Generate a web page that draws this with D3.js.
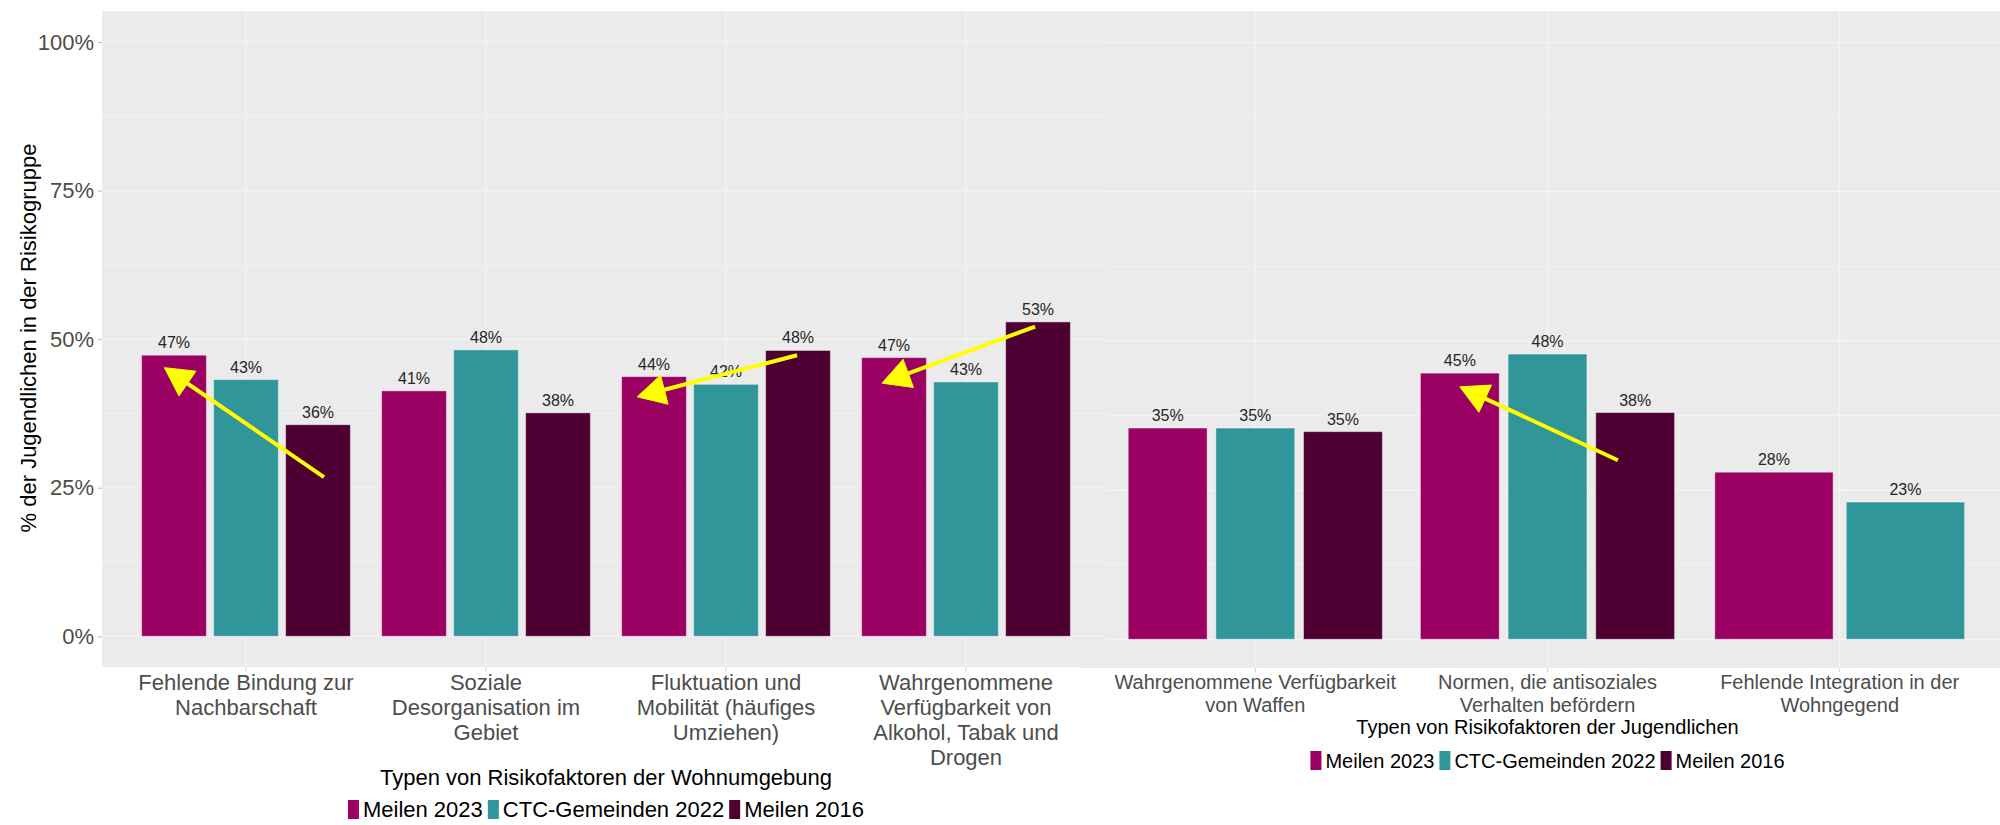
<!DOCTYPE html>
<html>
<head>
<meta charset="utf-8">
<script src="https://cdn.jsdelivr.net/npm/d3@7"></script>
<style>
  html, body { margin: 0; padding: 0; background: #ffffff; }
  svg { display: block; font-family: "Liberation Sans", Arial, Helvetica, sans-serif; }
</style>
</head>
<body>
<svg id="chart" width="2000" height="825"></svg>
<script>
// ---- data -------------------------------------------------------------
const seriesNames = ["Meilen 2023", "CTC-Gemeinden 2022", "Meilen 2016"];
const seriesColors = ["#9B0063", "#31969A", "#4E0032"];

// Risk factors of the living environment (values in %)
const envCategories = [
  "Fehlende Bindung zur\nNachbarschaft",
  "Soziale\nDesorganisation im\nGebiet",
  "Fluktuation und\nMobilität (häufiges\nUmziehen)",
  "Wahrgenommene\nVerfügbarkeit von\nAlkohol, Tabak und\nDrogen"
];
const envMeilen2023 = [47.3, 41.3, 43.7, 46.9];
const envCTC2022    = [43.2, 48.2, 42.4, 42.8];
const envMeilen2016 = [35.6, 37.6, 48.1, 52.9];
const envTitle = "Typen von Risikofaktoren der Wohnumgebung";

// Risk factors of the young people themselves (values in %)
const youthCategories = [
  "Wahrgenommene Verfügbarkeit\nvon Waffen",
  "Normen, die antisoziales\nVerhalten befördern",
  "Fehlende Integration in der\nWohngegend"
];
const youthMeilen2023 = [35.4, 44.6, 28.0];
const youthCTC2022    = [35.4, 47.8, 23.0];
const youthMeilen2016 = [34.8, 38.0, null];
const youthTitle = "Typen von Risikofaktoren der Jugendlichen";

const yTicks = [0, 25, 50, 75, 100];
const yMinorTicks = [12.5, 37.5, 62.5, 87.5];
const yTitle = "% der Jugendlichen in der Risikogruppe";

// Trend arrows: category index, position inside the group (fraction of band), value in %
const envArrows = [
  { cat: 0, fromDx: 0.325, fromV: 26.8, toDx: -0.34, toV: 45.2 },
  { cat: 2, fromDx: 0.296, fromV: 47.3, toDx: -0.37, toV: 40.3 },
  { cat: 3, fromDx: 0.288, fromV: 52.1, toDx: -0.35, toV: 42.6 }
];
const youthArrows = [
  { cat: 1, fromDx: 0.241, fromV: 30.0, toDx: -0.30, toV: 42.3 }
];

// ---- drawing ----------------------------------------------------------
const svg = d3.select("#chart");
const PANEL_BG = "#EBEBEB";
const GRID = "#F5F5F5";

function buildRows(categories, cols) {
  return categories.map((c, i) => ({
    cat: c,
    values: seriesNames
      .map((s, j) => ({ series: s, idx: j, value: cols[j][i] }))
      .filter(d => d.value !== null && d.value !== undefined)
  }));
}

function drawPanel(opt) {
  const g = svg.append("g");
  const x = d3.scaleBand()
    .domain(opt.categories)
    .range([opt.xRange[0], opt.xRange[1]])
    .paddingInner(0).paddingOuter(0.1);
  const y = d3.scaleLinear().domain([0, 100]).range(opt.yRange);
  const band = x.step();

  // panel background
  g.append("rect")
    .attr("x", opt.bgX[0]).attr("y", opt.top)
    .attr("width", opt.bgX[1] - opt.bgX[0]).attr("height", opt.bottom - opt.top)
    .attr("fill", PANEL_BG);

  // grid
  const grid = g.append("g");
  grid.selectAll("line.minor").data(yMinorTicks).join("line")
    .attr("x1", opt.bgX[0]).attr("x2", opt.bgX[1])
    .attr("y1", d => y(d)).attr("y2", d => y(d))
    .attr("stroke", GRID).attr("stroke-width", 0.8);
  grid.selectAll("line.major").data(yTicks).join("line")
    .attr("x1", opt.bgX[0]).attr("x2", opt.bgX[1])
    .attr("y1", d => y(d)).attr("y2", d => y(d))
    .attr("stroke", GRID).attr("stroke-width", 1.2);
  grid.selectAll("line.vert").data(opt.categories).join("line")
    .attr("x1", d => x(d) + band / 2).attr("x2", d => x(d) + band / 2)
    .attr("y1", opt.top).attr("y2", opt.bottom)
    .attr("stroke", GRID).attr("stroke-width", 1.2);

  // bars (dodged within each category)
  const rows = buildRows(opt.categories, opt.cols);
  rows.forEach(row => {
    const inner = d3.scaleBand()
      .domain(row.values.map(v => v.series))
      .range([-0.45 * band, 0.45 * band])
      .paddingInner(0.1).paddingOuter(0.05);
    const cx = x(row.cat) + band / 2;
    const grp = g.append("g");
    grp.selectAll("rect").data(row.values).join("rect")
      .attr("x", d => cx + inner(d.series))
      .attr("y", d => y(d.value))
      .attr("width", inner.bandwidth())
      .attr("height", d => y(0) - y(d.value))
      .attr("fill", d => seriesColors[d.idx])
      .attr("stroke", "#ffffff").attr("stroke-opacity", 0.45).attr("stroke-width", 1);
    grp.selectAll("text").data(row.values).join("text")
      .attr("x", d => cx + inner(d.series) + inner.bandwidth() / 2)
      .attr("y", d => y(d.value) - 7)
      .attr("text-anchor", "middle")
      .attr("font-size", 16)
      .attr("fill", "#262626")
      .text(d => Math.round(d.value) + "%");
  });

  // x ticks and category labels
  const xAxis = g.append("g");
  opt.categories.forEach(c => {
    const cx = x(c) + band / 2;
    xAxis.append("line")
      .attr("x1", cx).attr("x2", cx)
      .attr("y1", opt.bottom).attr("y2", opt.bottom + 4)
      .attr("stroke", "#d0d0d0").attr("stroke-width", 1);
    const t = xAxis.append("text")
      .attr("text-anchor", "middle")
      .attr("font-size", opt.labelSize)
      .attr("fill", "#4D4D4D");
    c.split("\n").forEach((line, i) => {
      t.append("tspan").attr("x", cx).attr("y", opt.labelY + i * opt.lineH).text(line);
    });
  });

  // axis title
  const cxPanel = (opt.xRange[0] + opt.xRange[1]) / 2;
  g.append("text")
    .attr("x", cxPanel).attr("y", opt.titleY)
    .attr("text-anchor", "middle")
    .attr("font-size", opt.titleSize)
    .attr("fill", "#000000")
    .text(opt.title);

  // legend (centered under the panel)
  const leg = g.append("g");
  let cursor = 0;
  const keyW = 11, keyH = 19;
  seriesNames.forEach((s, i) => {
    leg.append("rect")
      .attr("x", cursor).attr("y", opt.legendY - keyH + 2)
      .attr("width", keyW).attr("height", keyH)
      .attr("fill", seriesColors[i]);
    const t = leg.append("text")
      .attr("x", cursor + keyW + 4).attr("y", opt.legendY)
      .attr("font-size", opt.legendSize)
      .attr("fill", "#000000")
      .text(s);
    cursor += keyW + 4 + t.node().getComputedTextLength() + 5;
  });
  const legW = cursor - 5;
  leg.attr("transform", `translate(${cxPanel - legW / 2},0)`);

  return { x, y, band, g };
}

function drawArrows(panel, categories, arrows) {
  const layer = svg.append("g");
  arrows.forEach(a => {
    const cx = panel.x(categories[a.cat]) + panel.band / 2;
    const x1 = cx + a.fromDx * panel.band, y1 = panel.y(a.fromV);
    const x2 = cx + a.toDx * panel.band, y2 = panel.y(a.toV);
    const ang = Math.atan2(y2 - y1, x2 - x1);
    const headL = 28, headW = 15;
    const bx = x2 - headL * Math.cos(ang), by = y2 - headL * Math.sin(ang);
    layer.append("line")
      .attr("x1", x1).attr("y1", y1).attr("x2", bx).attr("y2", by)
      .attr("stroke", "#FFFF00").attr("stroke-width", 4);
    const px = -Math.sin(ang), py = Math.cos(ang);
    layer.append("path")
      .attr("d", d3.line()([
        [x2, y2],
        [bx + px * headW, by + py * headW],
        [bx - px * headW, by - py * headW]
      ]) + "Z")
      .attr("fill", "#FFFF00").attr("stroke", "#FFFF00").attr("stroke-width", 1);
  });
}

// right-hand panel first; the left panel overlaps its left margin
const youth = drawPanel({
  categories: youthCategories,
  cols: [youthMeilen2023, youthCTC2022, youthMeilen2016],
  xRange: [1080, 2015], bgX: [1080, 2000],
  yRange: [639.3, 42.5], top: 11, bottom: 668,
  labelY: 689, lineH: 23, labelSize: 20,
  title: youthTitle, titleY: 734, titleSize: 20,
  legendY: 768, legendSize: 20
});

const env = drawPanel({
  categories: envCategories,
  cols: [envMeilen2023, envCTC2022, envMeilen2016],
  xRange: [102, 1110], bgX: [102, 1105],
  yRange: [636.3, 42], top: 11, bottom: 667,
  labelY: 690, lineH: 25, labelSize: 22,
  title: envTitle, titleY: 785, titleSize: 22,
  legendY: 817, legendSize: 22
});

// y axis on the left panel
const yAxis = svg.append("g")
  .attr("transform", "translate(102,0)")
  .call(d3.axisLeft(env.y).tickValues(yTicks).tickFormat(d => d + "%").tickSize(4).tickPadding(4));
yAxis.select(".domain").remove();
yAxis.selectAll(".tick line").attr("stroke", "#bdbdbd");
yAxis.selectAll(".tick text")
  .attr("font-size", 22).attr("fill", "#4D4D4D")
  .attr("font-family", "Liberation Sans, Arial, sans-serif");

svg.append("text")
  .attr("transform", "translate(36,338) rotate(-90)")
  .attr("text-anchor", "middle")
  .attr("font-size", 22)
  .attr("fill", "#000000")
  .text(yTitle);

drawArrows(env, envCategories, envArrows);
drawArrows(youth, youthCategories, youthArrows);
</script>
</body>
</html>
